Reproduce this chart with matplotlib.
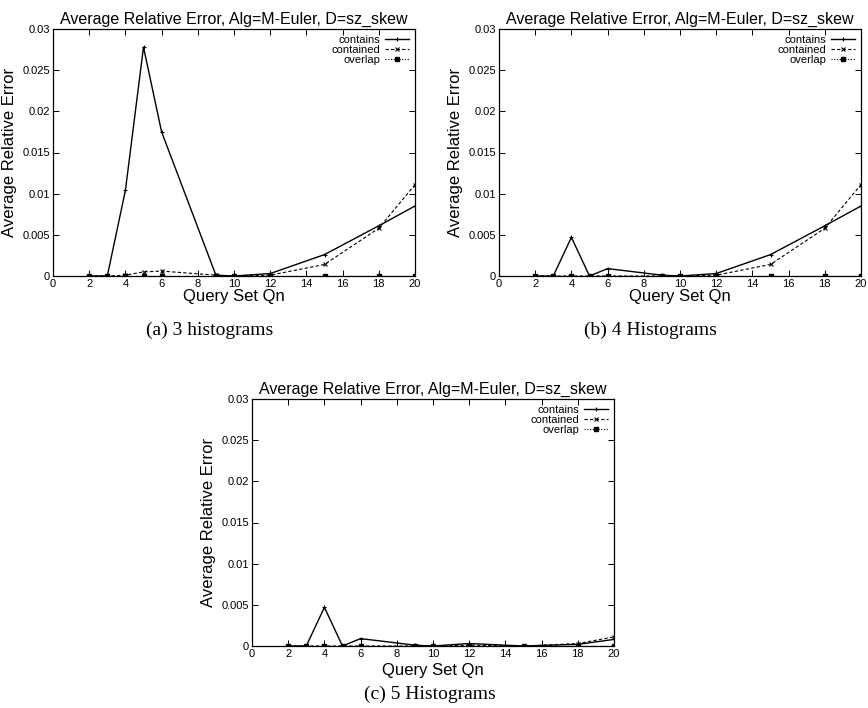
import matplotlib
matplotlib.use("Agg")
import matplotlib.pyplot as plt

qn = [2, 3, 4, 5, 6, 9, 10, 12, 15, 18, 20]

contains_a = [0, 0, 0.0104, 0.0278, 0.0175, 0.0001, 0, 0.0003, 0.0026, 0.0061, 0.0085]
contained_a = [0, 0, 0.0001, 0.0005, 0.0006, 0.0001, 0, 0.0001, 0.0014, 0.0058, 0.0111]
overlap_a = [0] * 11

contains_b = [0, 0, 0.0047, 0, 0.0009, 0.0001, 0, 0.0003, 0.0026, 0.0061, 0.0085]
contained_b = [0, 0, 0, 0, 0, 0, 0, 0.0001, 0.0014, 0.0058, 0.0111]
overlap_b = [0] * 11

contains_c = [0, 0, 0.0047, 0, 0.0009, 0.0001, 0, 0.0003, 0, 0.0002, 0.0008]
contained_c = [0, 0, 0, 0, 0, 0, 0, 0.0001, 0, 0.0003, 0.0011]
overlap_c = [0] * 11

captions = ["(a) 3 histograms", "(b) 4 Histograms", "(c) 5 Histograms"]
title = "Average Relative Error, Alg=M-Euler, D=sz_skew"

W, H = 868, 708
fig = plt.figure(figsize=(W / 100, H / 100), dpi=100)
plt.rcParams["font.family"] = "Liberation Sans"

# axes boxes in pixels: left, top, right, bottom
boxes = [(53, 29, 415, 276), (499, 29, 861, 276), (252, 399, 614, 646)]
panels = [
    (contains_a, contained_a, overlap_a),
    (contains_b, contained_b, overlap_b),
    (contains_c, contained_c, overlap_c),
]
caption_pos = [(210, 330), (650, 330), (430, 694)]

for i, (box, (c1, c2, c3)) in enumerate(zip(boxes, panels)):
    l, t, r, b = box
    ax = fig.add_axes([l / W, 1 - b / H, (r - l) / W, (b - t) / H])
    ax.plot(qn, c1, color="black", lw=1, ls="-", marker="+", ms=3.5, mew=0.8, label="contains")
    ax.plot(qn, c2, color="black", lw=0.8, ls=(0, (3, 2)), marker="x", ms=3, mew=0.8, label="contained")
    ax.plot(qn, c3, color="black", lw=0.8, ls=(0, (1, 1.5)), marker="s", ms=2.2, label="overlap")
    ax.set_xlim(0, 20)
    ax.set_ylim(0, 0.03)
    ax.set_xticks(range(0, 21, 2))
    ax.set_yticks([0, 0.005, 0.01, 0.015, 0.02, 0.025, 0.03])
    ax.set_yticklabels(["0", "0.005", "0.01", "0.015", "0.02", "0.025", "0.03"])
    ax.tick_params(direction="in", top=True, right=True, labelsize=8, length=4, width=0.7, pad=2)
    for s in ax.spines.values():
        s.set_linewidth(0.9)
    ax.set_title(title, fontsize=11.5, pad=4)
    ax.set_xlabel("Query Set Qn", fontsize=12, labelpad=0 if i < 2 else 3)
    ax.set_ylabel("Average Relative Error", fontsize=12, labelpad=4)
    ax.legend(loc="upper right", frameon=False, markerfirst=False, fontsize=8,
              handlelength=2.2, labelspacing=0.0, borderaxespad=0.1, handletextpad=0.4)
    cx, cy = caption_pos[i]
    fig.text(cx / W, 1 - cy / H, captions[i], ha="center", va="center",
             fontsize=14, family="Liberation Serif")

fig.savefig("out.png", dpi=100)
